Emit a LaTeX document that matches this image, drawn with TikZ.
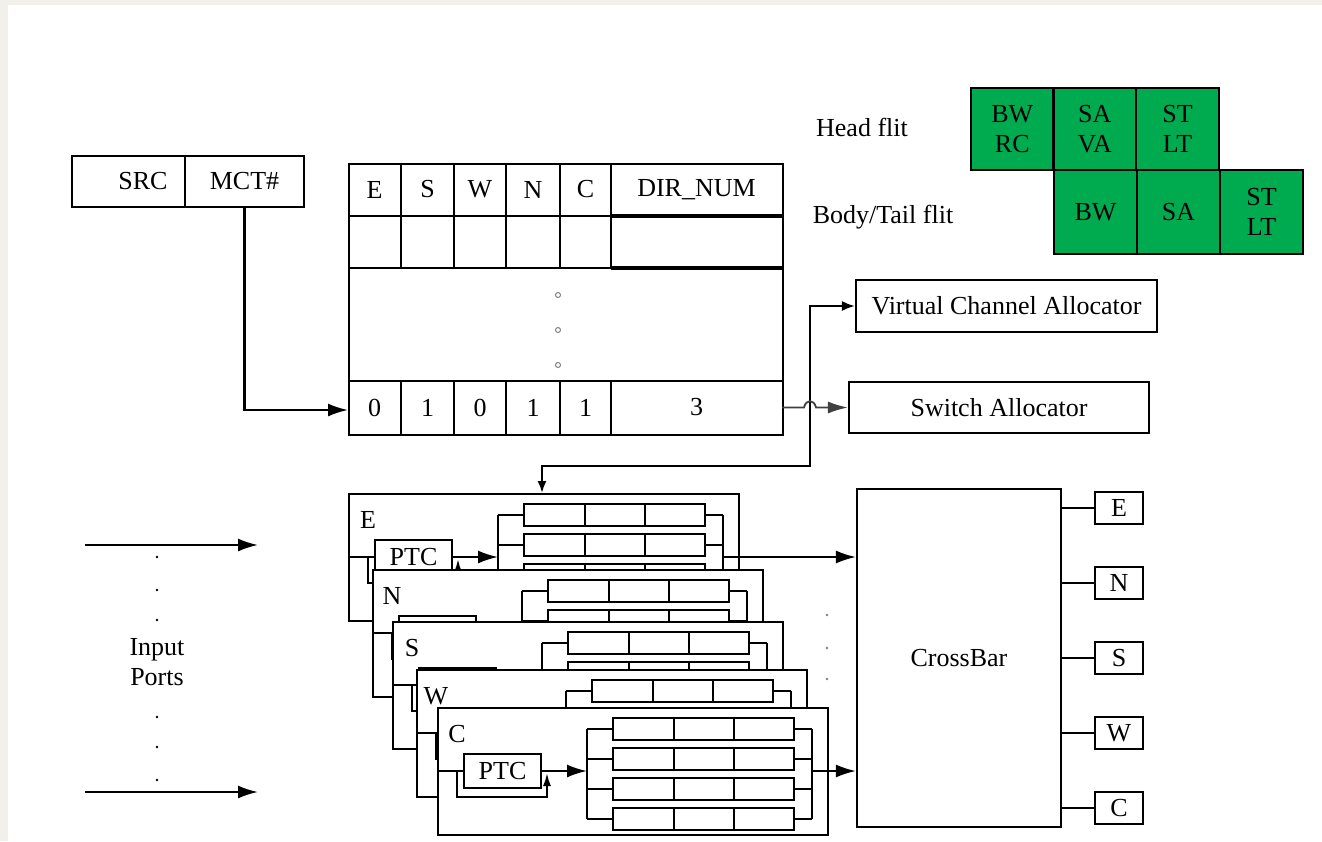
\documentclass[tikz,border=0pt]{standalone}
\usepackage{fontspec}
\setmainfont{Liberation Serif}
\usetikzlibrary{arrows.meta,calc}
\definecolor{pipegreen}{RGB}{0,170,79}
\definecolor{cream}{RGB}{241,240,234}
\tikzset{
  every node/.style={font={\fontsize{26}{30}\selectfont}},
  box/.style={draw, line width=2.1pt, inner sep=0pt},
  ln/.style={line width=2.1pt},
  arr/.style={line width=2.1pt, -{Latex[length=20pt,width=13pt]}},
  sarr/.style={line width=2.1pt, -{Latex[length=13pt,width=10pt]}},
  tarr/.style={line width=2.1pt, -{Latex[length=13pt,width=8pt]}},
  pipe/.style={box, fill=pipegreen, align=center},
}
\newcommand\portbox[5]{%
\begin{scope}[shift={(#2,#3)}]
  \node[box, fill=white, minimum width=390pt, minimum height=127pt, anchor=north west] (#1box) at (0,0) {};
  \node (#1lab) at (20,27) {#4};
  \node[box, minimum width=77pt, minimum height=34pt] (#1ptc) at (65.5,64) {#5};
  \coordinate (#1in) at (0,64);
  \coordinate (#1lbus) at (150,64);
  \coordinate (#1rbus) at (375,64);
  \draw[ln] (#1in) -- (#1ptc.west);
  \draw[tarr] (20,64) -- (20,90) -- (110,90) -- (110,66);
  \draw[arr] (#1ptc.east) -- (#1lbus);
  \draw[ln] (150,22) -- (150,112) (375,22) -- (375,112);
  \foreach \t in {11,41,71,101}{
    \draw[ln] (176,\t) rectangle (357,\t+22)
      (237,\t) -- (237,\t+22) (297,\t) -- (297,\t+22)
      (150,\t+11) -- (176,\t+11) (357,\t+11) -- (375,\t+11);
  }
\end{scope}}
\begin{document}
\begin{tikzpicture}[x=1pt,y=-1pt]
\useasboundingbox (0,0) rectangle (1322,841);
\fill[cream] (0,0) rectangle (1322,841);
\fill[white] (8,5) rectangle (1322,841);

% SRC / MCT# header
\node[box, minimum width=113pt, minimum height=51pt] (src) at (128.5,181.5) {};
\node at (143,181.5) {SRC};
\node[box, minimum width=119pt, minimum height=51pt] (mct) at (244.5,181.5) {MCT\#};

% table
\node[box, minimum width=434pt, minimum height=271pt, anchor=north west] (tbl) at (348,163) {};
\draw[ln] (348,216) -- (611,216) (348,268) -- (611,268) (348,381) -- (782,381);
\draw[line width=3.8pt] (611,216) -- (782,216) (611,268) -- (782,268);
\foreach \cx in {401,454,506,560,611}{
  \draw[ln] (\cx,163) -- (\cx,268) (\cx,381) -- (\cx,434);
}
\node (hE) at (374.5,189.5) {E};
\node (hS) at (427.5,189.5) {S};
\node (hW) at (480,189.5) {W};
\node (hN) at (533,189.5) {N};
\node (hC) at (585.5,189.5) {C};
\node (hD) at (696.5,189.5) {DIR\_NUM};
\node (b1) at (374.5,407.5) {0};
\node (b2) at (427.5,407.5) {1};
\node (b3) at (480,407.5) {0};
\node (b4) at (533,407.5) {1};
\node (b5) at (585.5,407.5) {1};
\node (b6) at (696.5,407.5) {3};
\foreach \yy in {295,330,365}{
  \draw[gray, line width=1pt] (558,\yy) circle (2.5pt);
}
\coordinate (row4in) at (348,410);
\coordinate (row4out) at (782,407.5);
\draw[arr] (mct.south) |- (row4in);

% pipeline
\node (headlbl) at (862,127) {Head flit};
\node (bodylbl) at (883,217) {Body/Tail flit};
\node[pipe, minimum width=82.5pt, minimum height=82pt] (p1) at (1012.25,129) {BW\\RC};
\node[pipe, minimum width=82.5pt, minimum height=82pt] (p2) at (1094.75,129) {SA\\VA};
\node[pipe, minimum width=82.5pt, minimum height=82pt] (p3) at (1177.5,129) {ST\\LT};
\node[pipe, minimum width=83pt, minimum height=84pt] (q1) at (1095.5,212) {BW};
\node[pipe, minimum width=83pt, minimum height=84pt] (q2) at (1178.5,212) {SA};
\node[pipe, minimum width=83pt, minimum height=84pt] (q3) at (1261.5,212) {ST\\LT};

% allocators
\node[box, minimum width=301pt, minimum height=52pt] (vca) at (1006.5,306) {Virtual Channel Allocator};
\node[box, minimum width=300pt, minimum height=51pt] (sa) at (999,407.5) {Switch Allocator};

% crossbar
\node[box, minimum width=204pt, minimum height=338pt] (cross) at (959,658) {CrossBar};
\foreach \n/\yy in {E/508,N/583,S/658,W/733,C/808}{
  \node[box, minimum width=48pt, minimum height=32pt] (out\n) at (1119,\yy) {\n};
  \draw[ln] (out\n.west) -- (out\n.west -| cross.east);
}
\foreach \yy in {615,648,679}{
  \fill[gray] (827,\yy) circle (1.4pt);
}

% input ports
\coordinate (inA) at (85,545);
\coordinate (inAend) at (258,545);
\coordinate (inB) at (85,792);
\coordinate (inBend) at (258,792);
\draw[arr] (inA) -- (inAend);
\draw[arr] (inB) -- (inBend);
\foreach \yy in {557,590,620,717,747,780}{
  \fill (157,\yy) circle (1.4pt);
}
\node[align=center] (ports) at (157,662) {Input\\Ports};

% port stacks
\portbox{E}{348}{493}{E}{PTC}
\draw[arr] (Erbus) -- (Erbus -| cross.west);
\portbox{N}{372}{569}{N}{}
\portbox{S}{392}{621}{S}{}
\portbox{W}{416}{669}{W}{}
\portbox{C}{437}{707}{C}{PTC}
\draw[arr] (Crbus) -- (Crbus -| cross.west);

% control path
\coordinate (ctlA) at (542,466);
\coordinate (ctlB) at (810,466);
\draw[line width=2.1pt, {Latex[length=12pt,width=9pt]}-{Latex[length=13pt,width=10pt]}]
  (ctlA |- Ebox.north) -- (ctlA) -- (ctlB) |- (vca.west);

% hop to switch allocator
\draw[line width=1.8pt, draw=black!75, -{Latex[length=20pt,width=12pt]}]
  (row4out) -- (804,407.5) .. controls (806,399) and (814,399) .. (816,407.5) -- (sa.west);
\end{tikzpicture}
\end{document}
